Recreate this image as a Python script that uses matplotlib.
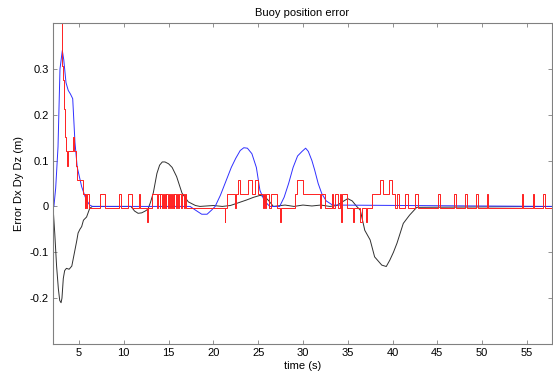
import matplotlib
matplotlib.use("Agg")
import matplotlib.pyplot as plt

plt.rcParams['font.family'] = ['Liberation Sans', 'DejaVu Sans']

# ---- data ----
# Dx (black)
t_dx = [2.1, 2.3, 2.5, 2.7, 2.85, 3.0, 3.1, 3.25, 3.4, 3.6, 3.9, 4.2, 4.4, 4.55, 4.75,
        4.9, 5.1, 5.3, 5.5, 5.85, 6.2, 6.5, 10.8, 11.2, 11.6, 12.0, 12.4, 12.7, 13.0,
        13.3, 13.7, 14.0, 14.3, 14.6, 15.0, 15.4, 15.9, 16.5, 17.2, 18.0, 18.5, 20.0,
        21.0, 21.9, 22.8, 23.7, 24.5, 25.2, 25.7, 26.2, 26.7, 28.0, 29.0, 30.0, 31.0,
        32.0, 33.0, 33.8, 34.4, 35.0, 35.5, 36.0, 36.4, 36.9, 37.5, 38.0, 38.8, 39.3,
        39.7, 40.1, 40.5, 41.2, 41.9, 42.7, 58.0]
v_dx = [0.0, -0.06, -0.13, -0.18, -0.205, -0.21, -0.2, -0.157, -0.14, -0.135, -0.137,
        -0.13, -0.11, -0.095, -0.075, -0.058, -0.05, -0.044, -0.03, -0.023, -0.004, 0.0,
        0.0, -0.01, -0.015, -0.014, -0.01, -0.006, 0.01, 0.03, 0.072, 0.09, 0.097, 0.097,
        0.093, 0.085, 0.065, 0.029, 0.01, 0.002, 0.0, 0.002, 0.0, 0.002, 0.008, 0.014,
        0.02, 0.024, 0.022, 0.012, 0.0, 0.003, 0.0, 0.003, 0.001, 0.003, 0.0, 0.002,
        0.01, 0.017, 0.012, 0.0, -0.008, -0.052, -0.073, -0.11, -0.128, -0.131, -0.117,
        -0.1, -0.08, -0.037, -0.019, -0.002, 0.0]

# Dy (blue)
t_dy = [2.1, 2.2, 2.4, 2.66, 2.88, 3.14, 3.3, 3.55, 3.8, 4.05, 4.3, 4.55, 4.8, 5.3,
        5.8, 6.2, 6.5, 17.4, 18.0, 18.7, 19.3, 19.8, 20.2, 20.8, 21.5, 22.0, 22.5,
        23.0, 23.4, 23.8, 24.3, 24.8, 25.2, 25.7, 26.3, 27.4, 27.9, 28.4, 28.9, 29.4,
        29.9, 30.3, 30.6, 31.0, 31.3, 31.7, 32.1, 32.6, 33.3, 58.0]
v_dy = [0.0, 0.0, 0.04, 0.13, 0.3, 0.34, 0.32, 0.27, 0.253, 0.245, 0.235, 0.14, 0.086,
        0.043, 0.015, 0.003, 0.0, 0.0, -0.008, -0.017, -0.017, -0.008, 0.0, 0.025, 0.06,
        0.085, 0.105, 0.122, 0.128, 0.127, 0.115, 0.085, 0.035, 0.012, 0.0, 0.0, 0.02,
        0.05, 0.085, 0.11, 0.12, 0.127, 0.12, 0.1, 0.08, 0.05, 0.028, 0.012, 0.003, 0.0]

# Dz (red), quantized step signal: value holds from each time to the next
t_dz = [2.1, 2.95, 3.0, 3.05, 3.1, 3.16, 3.22, 3.28, 3.34, 3.4, 3.46, 3.52, 3.65, 3.72,
        4.38, 4.45, 4.68, 4.76, 5.48, 5.67, 5.7, 5.74, 5.77, 5.81, 5.84, 6.15,
        7.35, 7.9, 9.5, 9.7, 10.5, 10.9, 11.7, 11.85, 12.6, 12.7,
        13.15, 13.7, 13.8, 14.0, 14.05, 14.3, 14.35, 14.5, 14.55, 14.7, 14.75, 14.95,
        15.0, 15.2, 15.25, 15.4, 15.45, 15.6, 15.65, 15.85, 15.9, 16.1, 16.15, 16.4,
        16.5, 16.7, 16.8, 17.0,
        21.25, 21.35, 21.5, 22.4, 22.55, 22.75, 22.95, 23.9, 24.3, 24.6, 25.0, 25.5,
        25.6, 25.8, 25.9, 26.2, 26.4, 27.1, 27.4, 27.5,
        29.1, 29.3, 30.0, 31.9, 32.0, 32.5, 33.2, 33.4, 33.6, 33.9, 34.1, 34.3, 34.4,
        34.9, 35.6, 35.7, 36.4, 36.6, 37.05, 37.15,
        37.7, 38.6, 38.9, 39.55, 39.9, 40.3, 40.5, 40.7, 41.4, 41.7, 42.5, 42.8,
        45.1, 45.3, 46.9, 47.1, 48.1, 48.3, 49.3, 49.55, 50.5, 50.65,
        54.4, 54.6, 55.7, 55.8, 56.8, 57.0, 58.0]
v_dz = [0.5, 0.43, 0.399, 0.368, 0.337, 0.306, 0.275, 0.244, 0.213, 0.182, 0.151, 0.12,
        0.089, 0.12, 0.151, 0.12, 0.089, 0.058, 0.027, -0.004, 0.027, -0.004, 0.027,
        -0.004, 0.027, -0.004,
        0.027, -0.004, 0.027, -0.004, 0.027, -0.004, 0.027, -0.004, -0.035, -0.004,
        0.027, -0.004, 0.027, -0.004, 0.027, -0.004, 0.027, -0.004, 0.027, -0.004,
        0.027, -0.004, 0.027, -0.004, 0.027, -0.004, 0.027, -0.004, 0.027, -0.004,
        0.027, -0.004, 0.027, -0.004, 0.027, -0.004, 0.027, -0.004,
        -0.035, -0.004, 0.027, -0.004, 0.027, 0.058, 0.027, 0.058, 0.027, 0.058, 0.027,
        -0.004, 0.027, -0.004, 0.027, -0.004, 0.027, -0.004, -0.035, -0.004,
        0.027, 0.058, 0.027, -0.004, 0.027, -0.004, 0.027, -0.004, 0.027, -0.004,
        0.027, -0.035, 0.027, -0.004, -0.035, -0.004, -0.035, -0.004, -0.035, -0.004,
        0.027, 0.058, 0.027, 0.058, 0.027, -0.004, 0.027, -0.004, 0.027, -0.004, 0.027,
        -0.004, 0.027, -0.004, 0.027, -0.004, 0.027, -0.004, 0.027, -0.004, 0.027,
        -0.004, 0.027, -0.004, 0.027, -0.004, 0.027, -0.004, -0.004]

x_ticks = [5, 10, 15, 20, 25, 30, 35, 40, 45, 50, 55]
y_ticks = [-0.2, -0.1, 0, 0.1, 0.2, 0.3]
y_tick_labels = ['-0.2', '-0.1', '0', '0.1', '0.2', '0.3']

# ---- figure ----
fig = plt.figure(figsize=(5.53, 3.79), dpi=100)
ax = fig.add_axes([53 / 553, 35 / 379, 499 / 553, 321 / 379])

ax.plot(t_dx, v_dx, color='#303030', lw=0.7)
ax.plot(t_dy, v_dy, color='#3030ff', lw=0.7)
ax.step(t_dz, v_dz, where='post', color='#ff2020', lw=0.7)

ax.set_xlim(2.1, 57.8)
ax.set_ylim(-0.3, 0.4)
ax.set_xticks(x_ticks)
ax.set_xticklabels([str(v) for v in x_ticks])
ax.set_yticks(y_ticks)
ax.set_yticklabels(y_tick_labels)

for s in ax.spines.values():
    s.set_color('#808080')
    s.set_linewidth(0.8)
ax.tick_params(direction='in', length=3, width=0.6, color='#808080',
               top=True, right=True, labelsize=8, labelcolor='black', pad=3)

ax.set_title('Buoy position error', fontsize=8, pad=5)
ax.set_xlabel('time (s)', fontsize=8, labelpad=2)
ax.set_ylabel('Error Dx Dy Dz (m)', fontsize=8, labelpad=4)

fig.savefig('out.png', dpi=100)
